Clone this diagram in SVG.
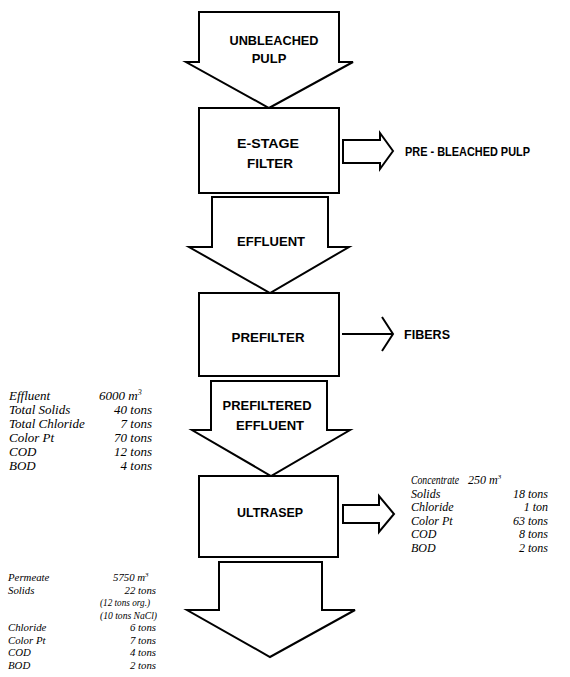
<svg xmlns="http://www.w3.org/2000/svg" width="570" height="677" viewBox="0 0 570 677">
  <style>
    .shape { fill: #fff; stroke: #000; stroke-width: 2; stroke-linejoin: miter; }
    .line { fill: none; stroke: #000; stroke-width: 2; }
    .cap { font-family: "Liberation Sans", Arial, sans-serif; font-size: 13px; font-weight: bold; fill: #000; text-anchor: middle; }
    .capl { font-family: "Liberation Sans", Arial, sans-serif; font-size: 13px; font-weight: bold; fill: #000; }
    .data { font-family: "Liberation Serif", "Times New Roman", serif; font-style: italic; font-size: 13px; fill: #000; }
    .mid { font-size: 12px; }
    .small { font-size: 10.8px; }
    .num { text-anchor: end; }
  </style>
  <rect width="570" height="677" fill="#fff"/>

  <!-- flow arrows and side outlets -->
  <g id="connectors">
    <g id="arrow-unbleached">
      <polygon class="shape" points="199,12 339,12 339,62 353,62 269,108 186,62 199,62"/>
      <text class="cap" x="274" y="45" textLength="89" lengthAdjust="spacingAndGlyphs">UNBLEACHED</text>
      <text class="cap" x="269" y="63">PULP</text>
    </g>
    <g id="arrow-effluent">
      <polygon class="shape" points="212,197 328,197 328,247 349,247 270,293 189,247 212,247"/>
      <text class="cap" x="271" y="246" textLength="68" lengthAdjust="spacingAndGlyphs">EFFLUENT</text>
    </g>
    <g id="arrow-prefiltered">
      <polygon class="shape" points="211,381 327,381 327,430 350,430 271,476 192,430 211,430"/>
      <text class="cap" x="267" y="410" textLength="89" lengthAdjust="spacingAndGlyphs">PREFILTERED</text>
      <text class="cap" x="270" y="430" textLength="68" lengthAdjust="spacingAndGlyphs">EFFLUENT</text>
    </g>
    <g id="arrow-permeate">
      <polygon class="shape" points="219,562 322,562 322,610 355,610 270,657 187,610 219,610"/>
    </g>
    <g id="arrow-prebleached">
      <polygon class="shape" points="343,140 380,140 380,133 393,151 380,169 380,163 343,163"/>
      <text class="capl" x="405" y="156" font-size="12" textLength="125" lengthAdjust="spacingAndGlyphs">PRE - BLEACHED PULP</text>
    </g>
    <g id="arrow-fibers">
      <line class="line" x1="342" y1="334" x2="393" y2="334"/>
      <polyline class="line" points="382,317 393,334 382,351"/>
      <text class="capl" x="404" y="339" textLength="46" lengthAdjust="spacingAndGlyphs">FIBERS</text>
    </g>
    <g id="arrow-concentrate">
      <polygon class="shape" points="343,505 379,505 379,496 394,514 379,532 379,523 343,523"/>
    </g>
  </g>

  <!-- process units -->
  <g id="e-stage-filter">
    <rect class="shape" x="199" y="108" width="140" height="85"/>
    <text class="cap" x="268" y="148" textLength="62" lengthAdjust="spacingAndGlyphs">E-STAGE</text>
    <text class="cap" x="270" y="168" textLength="46" lengthAdjust="spacingAndGlyphs">FILTER</text>
  </g>
  <g id="prefilter">
    <rect class="shape" x="199" y="293" width="140" height="83"/>
    <text class="cap" x="268" y="342" textLength="73" lengthAdjust="spacingAndGlyphs">PREFILTER</text>
  </g>
  <g id="ultrasep">
    <rect class="shape" x="199" y="476" width="139" height="81"/>
    <text class="cap" x="270" y="517" textLength="66" lengthAdjust="spacingAndGlyphs">ULTRASEP</text>
  </g>

  <!-- feed composition -->
  <g id="effluent-data" class="data">
    <text x="9" y="400">Effluent</text>
    <text x="9" y="414">Total Solids</text>
    <text x="9" y="428">Total Chloride</text>
    <text x="9" y="442">Color Pt</text>
    <text x="9" y="456">COD</text>
    <text x="9" y="470">BOD</text>
    <text x="99" y="400">6000 m<tspan dy="-5" font-size="8">3</tspan></text>
    <text class="num" x="152" y="414">40 tons</text>
    <text class="num" x="152" y="428">7 tons</text>
    <text class="num" x="152" y="442">70 tons</text>
    <text class="num" x="152" y="456">12 tons</text>
    <text class="num" x="152" y="470">4 tons</text>
  </g>

  <!-- concentrate composition -->
  <g id="concentrate-data" class="data mid">
    <text x="411" y="484" textLength="48" lengthAdjust="spacingAndGlyphs">Concentrate</text>
    <text x="411" y="498">Solids</text>
    <text x="411" y="511">Chloride</text>
    <text x="411" y="525">Color Pt</text>
    <text x="411" y="538">COD</text>
    <text x="411" y="552">BOD</text>
    <text x="468" y="484">250 m<tspan dy="-5" font-size="7">3</tspan></text>
    <text class="num" x="548" y="498">18 tons</text>
    <text class="num" x="548" y="511">1 ton</text>
    <text class="num" x="548" y="525">63 tons</text>
    <text class="num" x="548" y="538">8 tons</text>
    <text class="num" x="548" y="552">2 tons</text>
  </g>

  <!-- permeate composition -->
  <g id="permeate-data" class="data small">
    <text x="8" y="581">Permeate</text>
    <text x="8" y="593.5">Solids</text>
    <text x="8" y="631">Chloride</text>
    <text x="8" y="643.5">Color Pt</text>
    <text x="8" y="656">COD</text>
    <text x="8" y="668.5">BOD</text>
    <text x="113" y="581">5750 m<tspan dy="-4" font-size="7">3</tspan></text>
    <text class="num" x="156" y="593.5">22 tons</text>
    <text x="100" y="606" textLength="50" lengthAdjust="spacingAndGlyphs">(12 tons org.)</text>
    <text x="100" y="618.5" textLength="57" lengthAdjust="spacingAndGlyphs">(10 tons NaCl)</text>
    <text class="num" x="156" y="631">6 tons</text>
    <text class="num" x="156" y="643.5">7 tons</text>
    <text class="num" x="156" y="656">4 tons</text>
    <text class="num" x="156" y="668.5">2 tons</text>
  </g>
</svg>
